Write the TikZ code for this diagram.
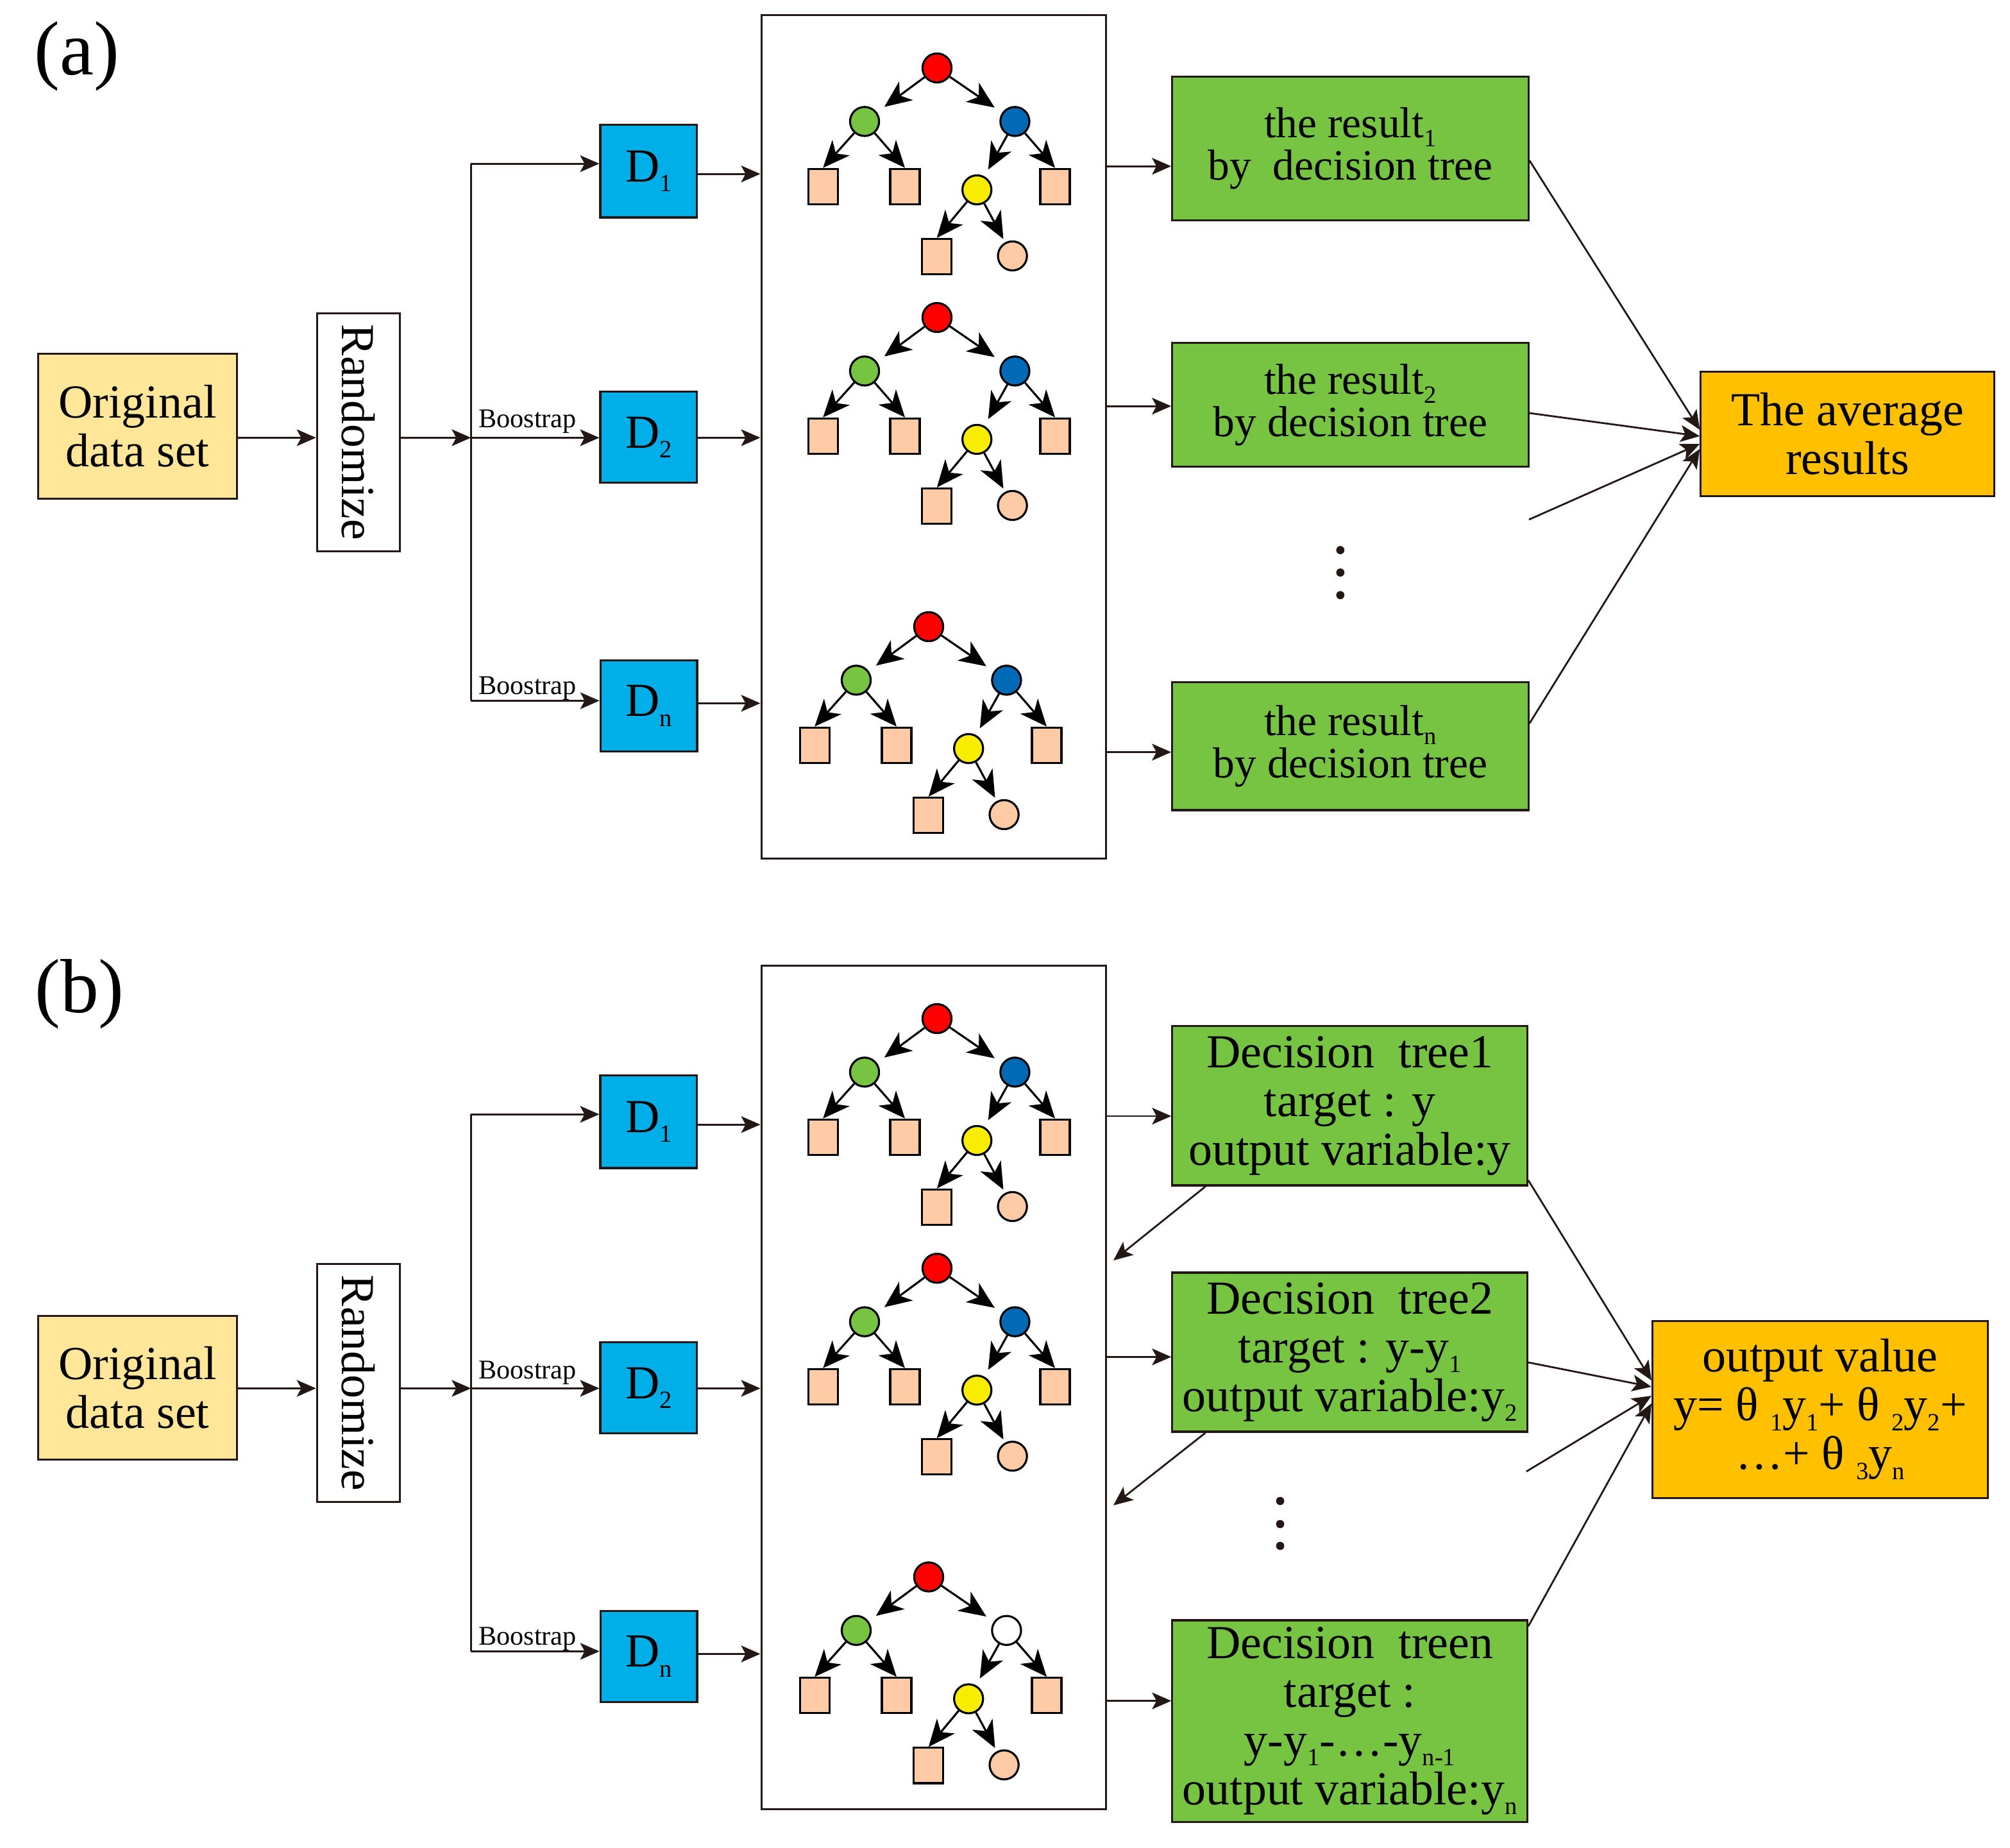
\documentclass[tikz,border=0pt]{standalone}
\usepackage{fontspec}
\setmainfont{Liberation Serif}
\usetikzlibrary{arrows.meta}
\definecolor{cLine}{HTML}{231815}
\definecolor{cSand}{HTML}{FFE699}
\definecolor{cSky}{HTML}{00AEE8}
\definecolor{cLeaf}{HTML}{76C442}
\definecolor{cAmber}{HTML}{FFC000}
\definecolor{cRed}{HTML}{FF0000}
\definecolor{cBlue}{HTML}{006AB6}
\definecolor{cGold}{HTML}{F8EC00}
\definecolor{cPeach}{HTML}{FFCBA6}
\tikzset{
  conn/.style={line width=0.4pt, draw=cLine, -{Stealth[length=1.5mm,width=1.3mm,inset=0.35mm]}},
  wire/.style={line width=0.4pt, draw=cLine},
  box/.style={draw=cLine, line width=0.45pt, inner sep=0pt, align=center},
  knot/.style={circle, draw=black, line width=0.45pt, minimum size=2.26mm, inner sep=0pt},
  tleaf/.style={rectangle, draw=black, line width=0.45pt, minimum width=2.3mm, minimum height=2.75mm, inner sep=0pt, fill=cPeach},
  tarr/.style={line width=0.45pt, -{Stealth[length=2.1mm,width=1.8mm,inset=0.6mm]}},
  txt/.style={font=\fontsize{10.5}{10.8}\selectfont},
  restxt/.style={font=\fontsize{9.6}{9.4}\selectfont},
}
% small lowered index
\def\lowsub#1{\raisebox{-0.45ex}{\fontsize{5.5}{5.5}\selectfont #1}}
% one decision tree: root at (#1,#2), names start with #3, colour of right knot #4
\def\dtree(#1,#2)#3#4{
  \node[knot, fill=cRed] (#3r) at (#1,#2) {};
  \node[knot, fill=cLeaf] (#3g) at (#1-56.5,#2+41.7) {};
  \node[knot, fill=#4] (#3b) at (#1+60.7,#2+41.7) {};
  \node[tleaf] (#3s1) at (#1-88.9,#2+92.4) {};
  \node[tleaf] (#3s2) at (#1-25,#2+92.4) {};
  \node[knot, fill=cGold] (#3y) at (#1+31.1,#2+95) {};
  \node[tleaf] (#3s3) at (#1+92,#2+92.4) {};
  \node[tleaf] (#3s4) at (#1-0.1,#2+147) {};
  \node[knot, fill=cPeach] (#3c) at (#1+58.8,#2+146.5) {};
  \draw[tarr, shorten >=2pt] (#3r) -- (#3g);
  \draw[tarr, shorten >=2pt] (#3r) -- (#3b);
  \draw[tarr] (#3g) -- (#3s1.north);
  \draw[tarr] (#3g) -- (#3s2.north);
  \draw[tarr, shorten >=1.7pt] (#3b) -- (#3y);
  \draw[tarr] (#3b) -- (#3s3.north);
  \draw[tarr] (#3y) -- (#3s4.north);
  \draw[tarr, shorten >=0.8pt] (#3y) -- (#3c);
}

\begin{document}
\begin{tikzpicture}[x=0.01cm, y=-0.01cm]
  \useasboundingbox (0,0) rectangle (1567,1440.5);

  %%%%% (a) %%%%%
  \node[font=\fontsize{17}{17}\selectfont] (labA) at (60,44) {(a)};

  \node[box, fill=cSand, txt, minimum width=1.55cm, minimum height=1.127cm] (orgA) at (107.3,332.3) {Original\\data set};
  \node[box, fill=white, minimum width=0.647cm, minimum height=1.851cm] (rndA) at (279.5,337) {};
  \node[txt, rotate=-90] (rndAt) at (rndA) {Randomize};
  \coordinate (jA) at (367.2,341.2);
  \coordinate (tA1) at (367.2,127.6);
  \coordinate (tAn) at (367.2,546.2);

  \node[box, fill=cSky, txt, minimum width=0.753cm, minimum height=0.723cm] (dA1) at (505.7,133.3) {D\lowsub{1}};
  \node[box, fill=cSky, txt, minimum width=0.753cm, minimum height=0.71cm] (dA2) at (505.7,340.9) {D\lowsub{2}};
  \node[box, fill=cSky, txt, minimum width=0.753cm, minimum height=0.71cm] (dAn) at (505.8,550.2) {D\lowsub{n}};
  \node[font=\fontsize{6}{6}\selectfont, anchor=base west, inner sep=0pt] (bsA2) at (372.5,333.5) {Boostrap};
  \node[font=\fontsize{6}{6}\selectfont, anchor=base west, inner sep=0pt] (bsAn) at (372.5,541.2) {Boostrap};

  \node[box, minimum width=2.687cm, minimum height=6.573cm] (panA) at (728,340.4) {};
  \dtree(730.5,53){ta1}{cBlue}
  \dtree(730.5,247.5){ta2}{cBlue}
  \dtree(724,488.5){ta3}{cBlue}

  \node[box, fill=cLeaf, restxt, minimum width=2.775cm, minimum height=1.121cm] (resA1) at (1052.7,115.7) {the result\lowsub{1}\\by~ decision tree};
  \node[box, fill=cLeaf, restxt, minimum width=2.775cm, minimum height=0.964cm] (resA2) at (1052.7,315.5) {the result\lowsub{2}\\by decision tree};
  \node[box, fill=cLeaf, restxt, minimum width=2.775cm, minimum height=0.998cm] (resAn) at (1052.7,581.6) {the result\lowsub{n}\\by decision tree};
  \node[box, fill=cAmber, txt, minimum width=2.286cm, minimum height=0.968cm] (avgA) at (1440.3,338.3) {The average\\results};
  \foreach \yy in {428.8,446.3,463.9} \fill[cLine] (1044.9,\yy) circle (0.032cm);
  \coordinate (fA) at (1192,405);

  \draw[conn] (orgA.east |- jA) -- (rndA.west |- jA);
  \draw[conn] (rndA.east |- jA) -- (jA);
  \draw[wire] (tA1) -- (tAn);
  \draw[conn] (tA1) -- (dA1.west |- tA1);
  \draw[conn] (jA) -- (dA2.west |- jA);
  \draw[conn] (tAn) -- (dAn.west |- tAn);
  \draw[conn] (dA1.east |- 0,135.6) -- (panA.west |- 0,135.6);
  \draw[conn] (dA2.east |- 0,341.2) -- (panA.west |- 0,341.2);
  \draw[conn] (dAn.east |- 0,548.2) -- (panA.west |- 0,548.2);
  \draw[conn] (panA.east |- 0,129.6) -- (resA1.west |- 0,129.6);
  \draw[conn] (panA.east |- 0,316.6) -- (resA2.west |- 0,316.6);
  \draw[conn] (panA.east |- 0,586.3) -- (resAn.west |- 0,586.3);
  \draw[conn] (resA1.east |- 0,125) -- (avgA.west |- 0,335);
  \draw[conn] (resA2.east |- 0,322) -- (avgA.west |- 0,340);
  \draw[conn] (fA) -- (avgA.west |- 0,346);
  \draw[conn] (resAn.east |- 0,564) -- (avgA.west |- 0,350);

  %%%%% (b) %%%%%
  \node[font=\fontsize{17}{17}\selectfont] (labB) at (62,775) {(b)};

  \node[box, fill=cSand, txt, minimum width=1.55cm, minimum height=1.12cm] (orgB) at (107.3,1081.6) {Original\\data set};
  \node[box, fill=white, minimum width=0.647cm, minimum height=1.851cm] (rndB) at (279.5,1078) {};
  \node[txt, rotate=-90] (rndBt) at (rndB) {Randomize};
  \coordinate (jB) at (367.2,1082.2);
  \coordinate (tB1) at (367.2,868.6);
  \coordinate (tBn) at (367.2,1287.2);

  \node[box, fill=cSky, txt, minimum width=0.753cm, minimum height=0.723cm] (dB1) at (505.7,874.3) {D\lowsub{1}};
  \node[box, fill=cSky, txt, minimum width=0.753cm, minimum height=0.71cm] (dB2) at (505.7,1081.9) {D\lowsub{2}};
  \node[box, fill=cSky, txt, minimum width=0.753cm, minimum height=0.71cm] (dBn) at (505.8,1291.2) {D\lowsub{n}};
  \node[font=\fontsize{6}{6}\selectfont, anchor=base west, inner sep=0pt] (bsB2) at (372.5,1074.5) {Boostrap};
  \node[font=\fontsize{6}{6}\selectfont, anchor=base west, inner sep=0pt] (bsBn) at (372.5,1282.2) {Boostrap};

  \node[box, minimum width=2.687cm, minimum height=6.573cm] (panB) at (728,1081.4) {};
  \dtree(730.5,794){tb1}{cBlue}
  \dtree(730.5,988.6){tb2}{cBlue}
  \dtree(724,1229.2){tb3}{white}

  \node[box, fill=cLeaf, txt, minimum width=2.766cm, minimum height=1.244cm] (dtB1) at (1052.3,861.8) {Decision~ tree1\\target : y\\output variable:y};
  \node[box, fill=cLeaf, txt, minimum width=2.766cm, minimum height=1.24cm] (dtB2) at (1052.3,1054) {Decision~ tree2\\target : y-y\lowsub{1}\\output variable:y\lowsub{2}};
  \node[box, fill=cLeaf, txt, minimum width=2.766cm, minimum height=1.57cm] (dtBn) at (1052.3,1341.5) {Decision~ treen\\target :\\y-y\lowsub{1}-…-y\lowsub{n-1}\\output variable:y\lowsub{n}};
  \node[box, fill=cAmber, txt, minimum width=2.613cm, minimum height=1.378cm] (outB) at (1419,1098.6) {output value\\y= θ \lowsub{1}y\lowsub{1}+ θ \lowsub{2}y\lowsub{2}+\\…+ θ \lowsub{3}y\lowsub{n}};
  \foreach \yy in {1170,1188,1205} \fill[cLine] (998,\yy) circle (0.032cm);
  \coordinate (fB) at (1190,1147);
  \coordinate (fbB1) at (868,982.5);
  \coordinate (fbB2) at (868,1173.4);

  \draw[conn] (orgB.east |- jB) -- (rndB.west |- jB);
  \draw[conn] (rndB.east |- jB) -- (jB);
  \draw[wire] (tB1) -- (tBn);
  \draw[conn] (tB1) -- (dB1.west |- tB1);
  \draw[conn] (jB) -- (dB2.west |- jB);
  \draw[conn] (tBn) -- (dBn.west |- tBn);
  \draw[conn] (dB1.east |- 0,876.6) -- (panB.west |- 0,876.6);
  \draw[conn] (dB2.east |- 0,1082.2) -- (panB.west |- 0,1082.2);
  \draw[conn] (dBn.east |- 0,1289.2) -- (panB.west |- 0,1289.2);
  \draw[conn] (panB.east |- 0,870) -- (dtB1.west |- 0,870);
  \draw[conn] (panB.east |- 0,1057.7) -- (dtB2.west |- 0,1057.7);
  \draw[conn] (panB.east |- 0,1325.8) -- (dtBn.west |- 0,1325.8);
  \draw[conn] (939.8,0 |- dtB1.south) -- (fbB1);
  \draw[conn] (939.8,0 |- dtB2.south) -- (fbB2);
  \draw[conn] (dtB1.east |- 0,920) -- (outB.west |- 0,1076);
  \draw[conn] (dtB2.east |- 0,1062) -- (outB.west |- 0,1081);
  \draw[conn] (fB) -- (outB.west |- 0,1088);
  \draw[conn] (dtBn.east |- 0,1267.6) -- (outB.west |- 0,1094);
\end{tikzpicture}
\end{document}
